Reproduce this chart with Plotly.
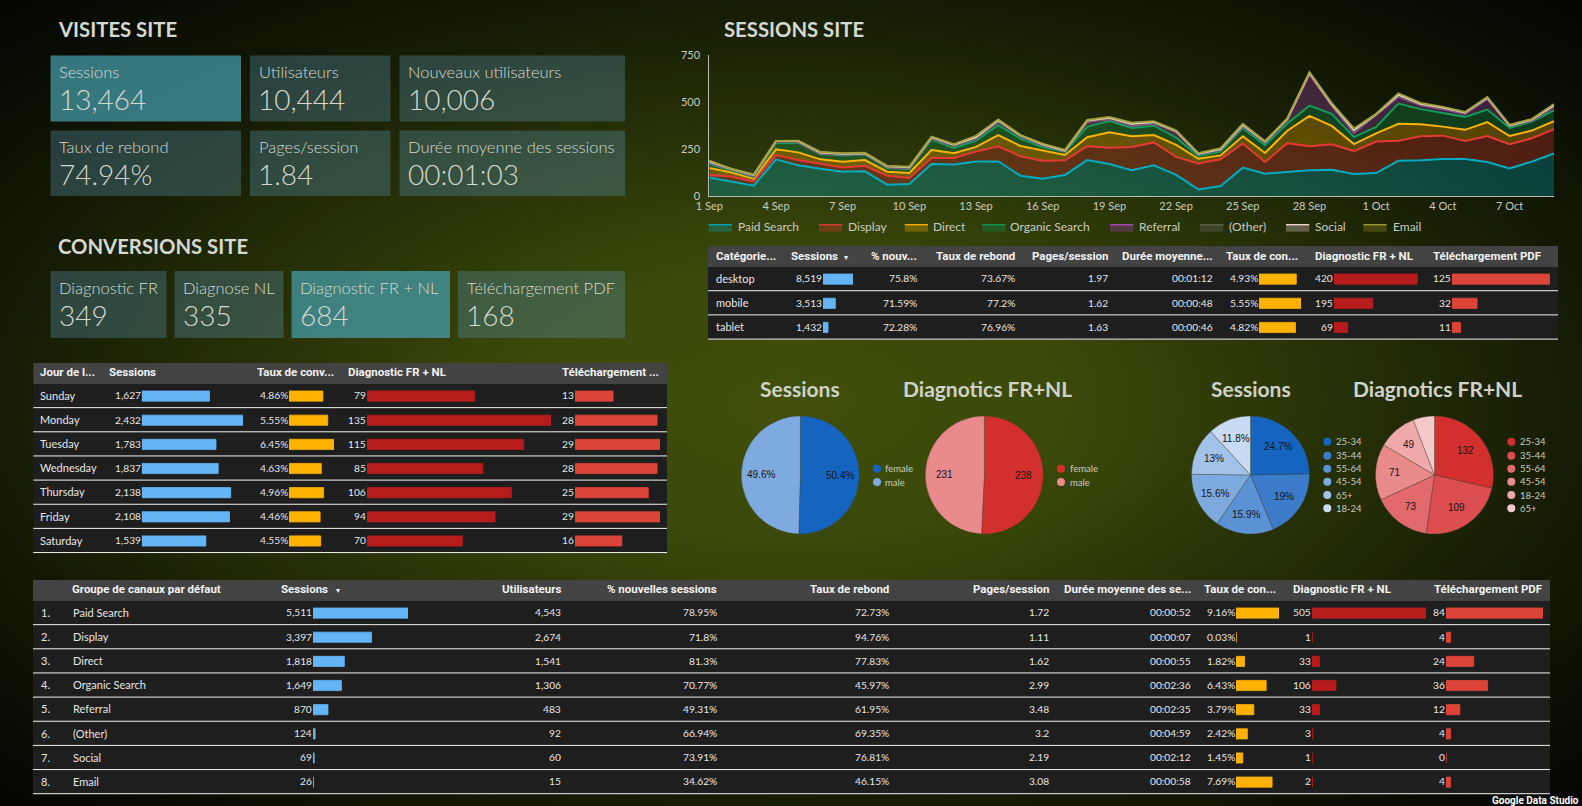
import base64
import math
import pandas as pd
import plotly.graph_objects as go

W, H = 1582, 806

# ---------- area chart ----------
dates = pd.date_range("2019-09-01", periods=39, freq="D")
tick_dates = pd.date_range("2019-09-01", periods=13, freq="3D")
paid = [98,76,55,195,163,145,129,131,60,64,170,167,183,184,108,92,112,191,170,137,163,112,35,53,151,119,129,137,140,117,122,188,190,197,197,181,147,183,227]
display = [14,28,23,23,28,25,23,30,48,32,34,35,53,80,103,96,78,74,87,124,122,96,138,142,128,62,152,128,135,122,168,106,128,124,96,138,128,124,128]
direct = [37,21,14,30,41,25,30,30,21,27,41,25,25,60,55,53,28,48,82,57,39,64,25,21,39,48,66,161,98,37,43,90,64,48,59,74,44,41,43]
organic = [21,12,9,32,50,27,34,30,20,20,57,27,34,53,39,18,16,55,60,44,50,39,14,20,43,41,39,55,64,37,35,108,80,73,69,67,43,48,57]
referral = [7,4,4,7,5,2,5,2,4,4,5,12,9,18,14,11,4,27,9,12,12,30,9,9,9,14,18,167,43,23,62,35,20,20,16,57,11,4,18]
other = [3,1,2,1,1,2,1,1,1,2,2,2,3,3,1,2,1,3,3,4,3,2,1,2,3,2,2,3,3,5,2,5,3,4,3,3,1,2,4]
social = [5,1,5,4,4,5,3,4,4,4,4,5,6,5,2,3,3,3,5,6,5,3,3,3,6,3,4,4,6,10,3,7,6,5,4,3,2,4,7]
email = [3,1,2,1,2,3,2,2,2,3,3,3,7,4,2,2,3,3,4,6,4,2,3,4,5,2,3,4,5,8,2,7,4,3,3,3,2,3,5]
area_names = ["Paid Search","Display","Direct","Organic Search","Referral","(Other)","Social","Email"]
area_lines = ["#00acc1","#e53935","#ffb300","#0f9d58","#ab47bc","#5f6350","#f8dcd6","#a3a040"]
area_fills = ["rgba(0,172,193,.3)","rgba(229,57,53,.3)","rgba(255,179,0,.3)","rgba(15,157,88,.3)","rgba(171,71,188,.3)","rgba(120,120,120,.3)","rgba(248,220,214,.3)","rgba(158,157,36,.3)"]
area_series = [paid,display,direct,organic,referral,other,social,email]
legend_swatch_x = [708.7,819,904.7,982.3,1110,1200,1286,1363.3]
legend_text_x = [736.7,846.7,932.3,1009.3,1138.3,1228,1313.7,1391.7]

# ---------- KPI cards ----------
kpi_row1 = [("Sessions","13,464"),("Utilisateurs","10,444"),("Nouveaux utilisateurs","10,006")]
kpi_row2 = [("Taux de rebond","74.94%"),("Pages/session","1.84"),("Durée moyenne des sessions","00:01:03")]
kpi_row3 = [("Diagnostic FR","349"),("Diagnose NL","335"),("Diagnostic FR + NL","684"),("Téléchargement PDF","168")]

# ---------- weekday table ----------
days = ["Sunday","Monday","Tuesday","Wednesday","Thursday","Friday","Saturday"]
day_sessions = [1627,2432,1783,1837,2138,2108,1539]
day_conv = [4.86,5.55,6.45,4.63,4.96,4.46,4.55]
day_diag = [79,135,115,85,106,94,70]
day_pdf = [13,28,29,28,25,29,16]

# ---------- device table ----------
devices = ["desktop","mobile","tablet"]
dev_sessions = [8519,3513,1432]
dev_new = ["75.8%","71.59%","72.28%"]
dev_bounce = ["73.67%","77.2%","76.96%"]
dev_pages = ["1.97","1.62","1.63"]
dev_duration = ["00:01:12","00:00:48","00:00:46"]
dev_conv = [4.93,5.55,4.82]
dev_diag = [420,195,69]
dev_pdf = [125,32,11]

# ---------- channel table ----------
channels = ["Paid Search","Display","Direct","Organic Search","Referral","(Other)","Social","Email"]
ch_sessions = [5511,3397,1818,1649,870,124,69,26]
ch_users = ["4,543","2,674","1,541","1,306","483","92","60","15"]
ch_new = ["78.95%","71.8%","81.3%","70.77%","49.31%","66.94%","73.91%","34.62%"]
ch_bounce = ["72.73%","94.76%","77.83%","45.97%","61.95%","69.35%","76.81%","46.15%"]
ch_pages = ["1.72","1.11","1.62","2.99","3.48","3.2","2.19","3.08"]
ch_duration = ["00:00:52","00:00:07","00:00:55","00:02:36","00:02:35","00:04:59","00:02:12","00:00:58"]
ch_conv = [9.16,0.03,1.82,6.43,3.79,2.42,1.45,7.69]
ch_diag = [505,1,33,106,33,3,1,2]
ch_pdf = [84,4,24,36,12,4,0,4]

# ---------- pies ----------
gender_labels = ["female","male"]
gender_sessions = [50.4,49.6]
gender_diag = [238,231]
age_labels_sessions = ["25-34","35-44","55-64","45-54","65+","18-24"]
age_sessions = [24.7,19,15.9,15.6,13,11.8]
age_labels_diag = ["25-34","35-44","55-64","45-54","18-24","65+"]
age_diag = [132,109,73,71,49,27]

BLUES = ["#1565c0","#3b7bc9","#5b91d5","#7faadf","#a3c2e9","#c8dbf2"]
REDS = ["#d32f2f","#dc4d50","#e36a6c","#e98a8d","#efa9ab","#f5c9cb"]
BLUE2 = ["#1565c0","#7faadf"]
RED2 = ["#d32f2f","#e98a8d"]
C_SESS, C_CONV, C_DIAG, C_PDF = "#64b5f6", "#ffb300", "#b71c1c", "#dd4438"

UI = "Lato"
HEAD = "Roboto"
TXT = "#d6d9d0"

def X(x): return x / W
def Y(y): return 1 - y / H

svg = ('<svg xmlns="http://www.w3.org/2000/svg" width="1582" height="806" preserveAspectRatio="none">'
       '<defs><radialGradient id="g" cx="0.5" cy="0.5" r="0.707">'
       '<stop offset="0" stop-color="#414f0a"/><stop offset="0.25" stop-color="#3a480a"/>'
       '<stop offset="0.72" stop-color="#141a04"/>'
       '<stop offset="1" stop-color="#030401"/></radialGradient></defs>'
       '<rect width="1582" height="806" fill="url(#g)"/></svg>')
bg_src = "data:image/svg+xml;base64," + base64.b64encode(svg.encode()).decode()

fig = go.Figure()
shapes, notes = [], []

def text(x, y, s, size=11, color="#e6e6e6", anchor="left", family=UI, weight=400):
    notes.append(dict(xref="paper", yref="paper", x=X(x), y=Y(y), text=s, showarrow=False,
                      xanchor=anchor, yanchor="middle", borderpad=0,
                      font=dict(family=family, size=size, color=color, weight=weight)))

def rect(x0, y0, x1, y1, fill, line=None):
    shapes.append(dict(type="rect", xref="paper", yref="paper", layer="below", x0=X(x0), x1=X(x1),
                       y0=Y(y1), y1=Y(y0), fillcolor=fill, line=dict(width=0)))

def hline(x0, x1, y, color="#f2f2f2", width=1):
    shapes.append(dict(type="line", xref="paper", yref="paper", layer="below", x0=X(x0), x1=X(x1),
                       y0=Y(y), y1=Y(y), line=dict(color=color, width=width)))

axis_n = [1]
layout_axes = {}

def bars(values, cats, x0, x1, top, pitch, color):
    axis_n[0] += 1
    n = axis_n[0]
    fig.add_trace(go.Bar(x=values, y=cats, orientation="h", xaxis=f"x{n}", yaxis=f"y{n}",
                         marker=dict(color=color, line=dict(color=color, width=0.8)),
                         showlegend=False, hoverinfo="x+y"))
    layout_axes[f"xaxis{n}"] = dict(domain=[X(x0), X(x1)], range=[0, max(values)], visible=False,
                                    fixedrange=True, anchor=f"y{n}", automargin=False)
    layout_axes[f"yaxis{n}"] = dict(domain=[Y(top + pitch * len(cats)), Y(top)], type="category",
                                    autorange="reversed", visible=False, fixedrange=True, anchor=f"x{n}",
                                    automargin=False)

def table_frame(x0, x1, head_top, head_bot, pitch, rows):
    rect(x0, head_top, x1, head_bot, "#434343")
    rect(x0, head_bot, x1, head_bot + pitch * rows, "#1e1e1e")
    for i in range(1, rows + 1):
        hline(x0, x1, head_bot + pitch * i - 0.5)

HEAD_Y = [0]

def head(x, s, anchor="left"):
    text(x + (1.5 if anchor == "right" else -0.5), HEAD_Y[0], s, size=11.5, color="#f2f2f2",
         anchor=anchor, family=HEAD, weight=700)

def column(vals, x, top, pitch, anchor="right"):
    for i, v in enumerate(vals):
        if anchor == "right":
            text(x + 1.5, top + pitch * (i + 0.47), v, size=10.2, anchor="right")
        else:
            text(x, top + pitch * (i + 0.47), v, size=11, anchor="left")

num = lambda vs: [f"{v:,}" for v in vs]
pct = lambda vs: [f"{v:g}%" for v in vs]

# ---------- area traces ----------
for name, vals, lc, fc in zip(area_names, area_series, area_lines, area_fills):
    fig.add_trace(go.Scatter(x=dates, y=vals, name=name, mode="lines", stackgroup="one",
                             line=dict(color=lc, width=2), fillcolor=fc, showlegend=False,
                             xaxis="x", yaxis="y"))

# chart legend
for name, lc, fc, sx, tx in zip(area_names, area_lines, area_fills, legend_swatch_x, legend_text_x):
    rect(sx, 224.7, sx + 23.3, 231.7, fc)
    hline(sx, sx + 23.3, 224.7, color=lc, width=1.3)
    text(tx, 226.7, name, size=12, color="#c8ccc0")

# ---------- KPI cards ----------
def card(x0, x1, y0, y1, label, value, hot=False):
    rect(x0, y0, x1, y1, "rgba(70,160,175,.72)" if hot else "rgba(85,140,165,.36)")
    text(x0 + 7.5, y0 + 16.5, label, size=16.5, color=TXT, weight=300)
    text(x0 + 7, y0 + 43.5, value, size=28, color=TXT, weight=300)

row1_x = [(50.5,241),(250,390.5),(399.5,625)]
row3_x = [(50.5,166.5),(174.5,283.5),(291.5,450),(458,625)]
for (lab, val), (a, b), hot in zip(kpi_row1, row1_x, [True, False, False]):
    card(a, b, 55.5, 121.5, lab, val, hot)
for (lab, val), (a, b) in zip(kpi_row2, row1_x):
    card(a, b, 130.5, 196, lab, val)
for (lab, val), (a, b), hot in zip(kpi_row3, row3_x, [False, False, True, False]):
    card(a, b, 271, 338, lab, val, hot)

for x, y, s in [(56.5, 29.5, "VISITES SITE"), (722.5, 29.5, "SESSIONS SITE"), (56.5, 246, "CONVERSIONS SITE")]:
    text(x, y, s, size=20.3, color="#d6d9d0", weight=700)

# ---------- weekday table ----------
top, pitch = 384, 24.15
table_frame(33.3, 667, 363, top, pitch, 7)
HEAD_Y[0] = 372
head(39.4, "Jour de l..."); head(108.4, "Sessions"); head(256.5, "Taux de conv...")
head(347.6, "Diagnostic FR + NL"); head(561.4, "Téléchargement ...")
column(days, 39.4, top, pitch, "left")
column(num(day_sessions), 140, top, pitch); bars(day_sessions, days, 141.8, 243, top, pitch, C_SESS)
column(pct(day_conv), 287.5, top, pitch); bars(day_conv, days, 289, 334, top, pitch, C_CONV)
column(num(day_diag), 365.5, top, pitch); bars(day_diag, days, 367, 551, top, pitch, C_DIAG)
column(num(day_pdf), 573.5, top, pitch); bars(day_pdf, days, 575, 660, top, pitch, C_PDF)

# ---------- device table ----------
top, pitch = 267, 24.2
table_frame(708, 1558, 246, top, pitch, 3)
HEAD_Y[0] = 256.5
head(715, "Catégorie..."); head(790, "Sessions"); text(846, 257, "▾", size=8, color="#f2f2f2", anchor="center")
head(916, "% nouv...", "right"); head(1014, "Taux de rebond", "right"); head(1107, "Pages/session", "right")
head(1212, "Durée moyenne...", "right"); head(1225, "Taux de con..."); head(1314, "Diagnostic FR + NL"); head(1432, "Téléchargement PDF")
column(devices, 715, top, pitch, "left")
column(num(dev_sessions), 821.5, top, pitch); bars(dev_sessions, devices, 823, 853, top, pitch, C_SESS)
column(dev_new, 916, top, pitch); column(dev_bounce, 1014, top, pitch)
column(dev_pages, 1107, top, pitch); column(dev_duration, 1212, top, pitch)
column(pct(dev_conv), 1257.5, top, pitch); bars(dev_conv, devices, 1259, 1301, top, pitch, C_CONV)
column(num(dev_diag), 1332.5, top, pitch); bars(dev_diag, devices, 1334, 1417.6, top, pitch, C_DIAG)
column(num(dev_pdf), 1450.5, top, pitch); bars(dev_pdf, devices, 1452, 1550, top, pitch, C_PDF)

# ---------- channel table ----------
top, pitch = 601, 24.15
table_frame(33, 1550, 580, top, pitch, 8)
HEAD_Y[0] = 589
head(71.7, "Groupe de canaux par défaut"); head(280, "Sessions"); text(338, 590, "▾", size=8, color="#f2f2f2", anchor="center")
head(560.8, "Utilisateurs", "right"); head(716.4, "% nouvelles sessions", "right")
head(888, "Taux de rebond", "right"); head(1048.8, "Pages/session", "right"); head(1190, "Durée moyenne des se...", "right")
head(1203, "Taux de con..."); head(1292.7, "Diagnostic FR + NL"); head(1433.7, "Téléchargement PDF")
column([f"{i+1}." for i in range(len(channels))], 39.7, top, pitch, "left")
column(channels, 71.7, top, pitch, "left")
column(num(ch_sessions), 311.5, top, pitch); bars(ch_sessions, channels, 313, 408, top, pitch, C_SESS)
column(ch_users, 560.8, top, pitch); column(ch_new, 716.4, top, pitch); column(ch_bounce, 888, top, pitch)
column(ch_pages, 1048.8, top, pitch); column(ch_duration, 1190, top, pitch)
column(pct(ch_conv), 1234.5, top, pitch); bars(ch_conv, channels, 1236, 1279, top, pitch, C_CONV)
column(num(ch_diag), 1310.5, top, pitch); bars(ch_diag, channels, 1312, 1426, top, pitch, C_DIAG)
column(num(ch_pdf), 1444.5, top, pitch); bars(ch_pdf, channels, 1446, 1543, top, pitch, C_PDF)

# ---------- pies ----------
def pie(cx, title, title_x, labels, values, colors, lx, ly, percent=False):
    r, cy = 59, 475
    fig.add_trace(go.Pie(labels=labels, values=values, sort=False, direction="clockwise", rotation=0,
                         domain=dict(x=[X(cx - r), X(cx + r)], y=[Y(cy + r), Y(cy - r)]),
                         marker=dict(colors=colors, line=dict(color="rgba(60,60,40,.55)", width=0.6)),
                         textinfo="none", showlegend=False))
    total = sum(values)
    run = 0
    for v in values:
        mid = (run + v / 2) / total * 2 * math.pi
        run += v
        if v / total >= 0.08:
            s = f"{v:g}%" if percent else str(v)
            text(cx + 0.67 * r * math.sin(mid), cy - 0.67 * r * math.cos(mid), s, size=10,
                 color="#141414", anchor="center", family="Liberation Sans")
    text(title_x, 389, title, size=21, color="#cfd2c8", anchor="center", weight=700)
    for lab, c, y in zip(labels, colors, ly):
        shapes.append(dict(type="circle", xref="paper", yref="paper", x0=X(lx - 4), x1=X(lx + 4),
                           y0=Y(y + 4), y1=Y(y - 4), fillcolor=c, line=dict(width=0), layer="above"))
        text(lx + 7.5, y, lab, size=9.5, color="#c8ccc0")

ly2 = [468.7, 482]
ly6 = [441.7, 455.7, 468.7, 481.7, 495, 508.3]
pie(800.3, "Sessions", 800.3, gender_labels, gender_sessions, BLUE2, 877, ly2, percent=True)
pie(984.3, "Diagnotics FR+NL", 987, gender_labels, gender_diag, RED2, 1061, ly2)
pie(1250.5, "Sessions", 1250.5, age_labels_sessions, age_sessions, BLUES, 1327.3, ly6, percent=True)
pie(1434.5, "Diagnotics FR+NL", 1437, age_labels_diag, age_diag, REDS, 1511.3, ly6)

text(1579.5, 800.5, "Google Data Studio", size=10, color="#ffffff", anchor="right", family=HEAD, weight=700)

fig.update_layout(
    template="none",
    width=W, height=H, margin=dict(l=0, r=0, t=0, b=0, pad=0), autosize=False,
    paper_bgcolor="#0a0c02", plot_bgcolor="rgba(0,0,0,0)", showlegend=False,
    barmode="overlay", bargap=0.58, hovermode="closest",
    images=[dict(source=bg_src, xref="paper", yref="paper", x=0, y=1, sizex=1, sizey=1,
                 xanchor="left", yanchor="top", sizing="stretch", layer="below")],
    xaxis=dict(domain=[X(709.3), X(1554)], type="date", range=[dates[0], dates[-1]], automargin=False,
               tickvals=list(tick_dates), tickformat="%-d %b", ticks="", showgrid=False, zeroline=False,
               showline=True, linecolor="#b8bcb0", linewidth=1,
               tickfont=dict(family=UI, size=11, color="#c8ccc0"), anchor="y", fixedrange=True),
    yaxis=dict(domain=[Y(196), Y(55)], range=[0, 750], tickvals=[0, 250, 500, 750], ticks="", showgrid=False,
               zeroline=False, showline=True, linecolor="#b8bcb0", linewidth=1, automargin=False,
               ticklabelstandoff=6,
               tickfont=dict(family=UI, size=11, color="#c8ccc0"), anchor="x", fixedrange=True),
    shapes=shapes, annotations=notes, **layout_axes,
)

fig.write_html("out.html", config={"displayModeBar": False},
               post_script="document.body.style.margin='0';document.documentElement.style.overflow='hidden';")
